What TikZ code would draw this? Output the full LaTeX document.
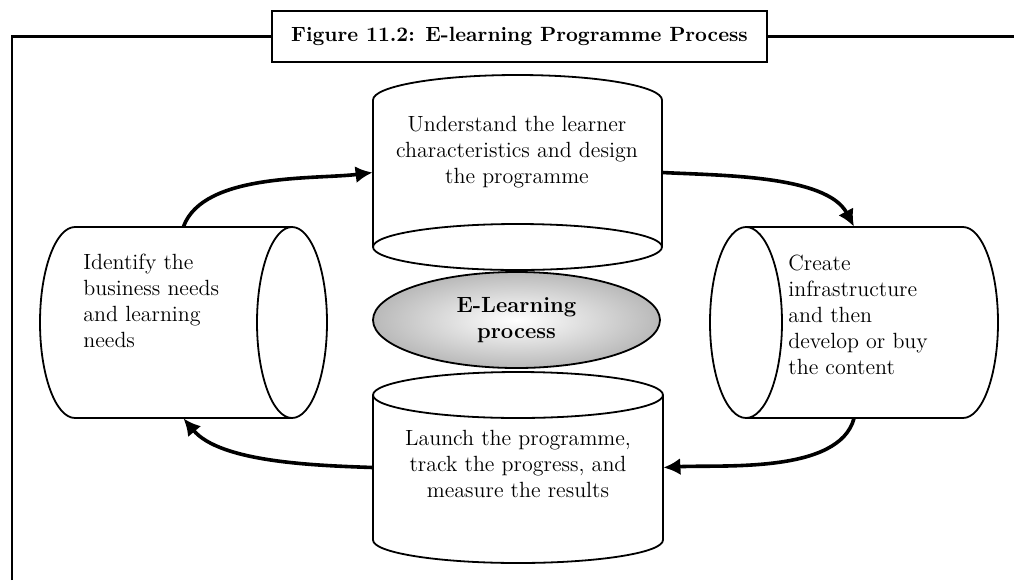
\documentclass[tikz,border=0pt]{standalone}
\usetikzlibrary{arrows.meta,shapes.geometric}

\begin{document}
\begin{tikzpicture}[x=0.5pt, y=0.5pt,
  body/.style={inner sep=0pt, draw=none},
  cylline/.style={line width=0.9pt},
  txt/.style={font=\fontsize{11}{13}\selectfont, inner sep=0pt},
  arr/.style={-{Latex[length=8.5pt,width=8.5pt]}, line width=1.8pt},
  frame/.style={line width=1.4pt}
]
  \useasboundingbox (0,0) rectangle (1014,-580);

  % title and frame
  \node[draw, frame, minimum width=247.5pt, minimum height=25.5pt,
        font=\bfseries\fontsize{10.3}{13}\selectfont] (title) at (519.5,-36.5)
    {Figure 11.2: E-learning Programme Process};
  \draw[frame] (12,-580) -- (12,-36.5) -- (title.west);
  \draw[frame] (title.east) -- (1014,-36.5);

  % the four steps (bodies)
  \node[body, minimum width=143.5pt, minimum height=95.5pt]
    (ident) at (183.5,-322.5) {};
  \node[body, minimum width=144pt, minimum height=95.5pt]
    (create) at (854,-322.5) {};
  \node[body, minimum width=144.5pt, minimum height=97.5pt]
    (design) at (517.5,-172.5) {};
  \node[body, minimum width=145pt, minimum height=95.5pt]
    (launch) at (518,-467.5) {};

  % cylinder outlines
  \draw[cylline] (292,-227) -- (75,-227)
    arc[start angle=90, end angle=270, x radius=17.5pt, y radius=47.75pt]
    -- (292,-418);
  \draw[cylline] (292,-322.5) ellipse[x radius=17.5pt, y radius=47.75pt];

  \draw[cylline] (746,-227) -- (963,-227)
    arc[start angle=90, end angle=-90, x radius=17.5pt, y radius=47.75pt]
    -- (746,-418);
  \draw[cylline] (746,-322.5) ellipse[x radius=18pt, y radius=47.75pt];

  \draw[cylline] (373,-247) -- (373,-100)
    arc[start angle=180, end angle=0, x radius=72.25pt, y radius=12.5pt]
    -- (662,-247);
  \draw[cylline] (517.5,-247) ellipse[x radius=72.25pt, y radius=11.5pt];

  \draw[cylline] (373,-395) -- (373,-540)
    arc[start angle=180, end angle=360, x radius=72.5pt, y radius=11.5pt]
    -- (663,-395);
  \draw[cylline] (518,-395) ellipse[x radius=72.5pt, y radius=11.5pt];

  % centre
  \node[ellipse, draw, line width=0.9pt, inner sep=0pt, minimum width=143.5pt,
        minimum height=48pt, inner color=white, outer color=gray!55,
        align=center, font=\bfseries\fontsize{11}{13}\selectfont]
    (core) at (516.5,-320) {E-Learning\\process};

  % texts
  \node[txt, align=center] (designtxt) at (517,-152)
    {Understand the learner\\characteristics and design\\the programme};
  \node[txt, align=left, anchor=west] (identtxt) at (83,-301)
    {Identify the\\business needs\\and learning\\needs};
  \node[txt, align=left, anchor=west] (createtxt) at (788,-315)
    {Create\\infrastructure\\and then\\develop or buy\\the content};
  \node[txt, align=center] (launchtxt) at (518,-464)
    {Launch the programme,\\track the progress, and\\measure the results};

  % cycle
  \draw[arr] (ident.north) to[out=70, in=187, looseness=0.75] (design.west);
  \draw[arr] (design.east) to[out=-3, in=118, looseness=0.75] (create.north);
  \draw[arr] (create.south) to[out=-105, in=3, looseness=0.75] (launch.east);
  \draw[arr] (launch.west) to[out=178, in=-50, looseness=0.75] (ident.south);
\end{tikzpicture}
\end{document}
